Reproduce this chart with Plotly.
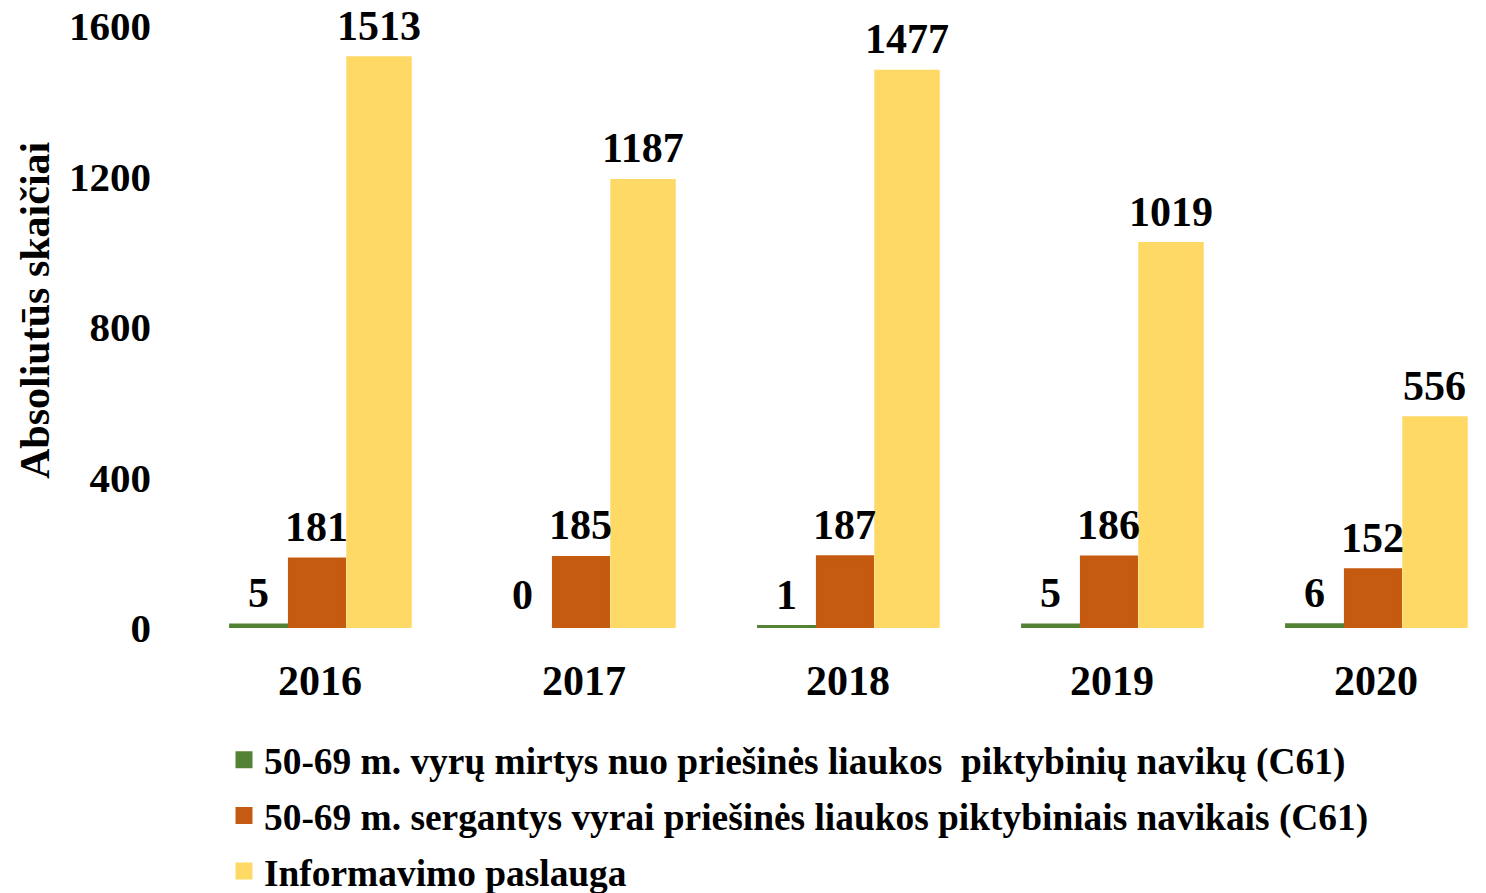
import plotly.graph_objects as go

years = ["2016", "2017", "2018", "2019", "2020"]
deaths = [5, 0, 1, 5, 6]
patients = [181, 185, 187, 186, 152]
info = [1513, 1187, 1477, 1019, 556]

names = [
    "50-69 m. vyrų mirtys nuo priešinės liaukos\u00a0 piktybinių navikų (C61)",
    "50-69 m. sergantys vyrai priešinės liaukos piktybiniais navikais (C61)",
    "Informavimo paslauga",
]
colors = ["#548235", "#C55A11", "#FFD966"]

FONT = "Liberation Serif, Times New Roman, serif"
W, H = 1486, 893
ml, mr, mt, mb = 180, 14, 18, 273
PW, PH = W - ml - mr, H - mt - mb
XRANGE = [-0.5, 4.394]
px_per_cat = PW / (XRANGE[1] - XRANGE[0])

fig = go.Figure()
series = [deaths, patients, info]
offsets = [-0.335, -0.112, 0.109]
widths = [0.205, 0.201, 0.229]
annotations = []
for i, (vals, name, col, off, wd) in enumerate(zip(series, names, colors, offsets, widths)):
    fig.add_trace(go.Bar(
        x=years, y=vals, name=name, legendgroup=f"g{i}",
        marker=dict(color=col,
                    line=dict(width=[5 if v > 0 else 0 for v in vals], color=col)),
        offset=off, width=wd,
    ))
    for j, v in enumerate(vals):
        annotations.append(dict(
            x=j, y=v, xref="x", yref="y", text=str(v), showarrow=False,
            xanchor="center", yanchor="bottom",
            xshift=(off + wd / 2) * px_per_cat, yshift=8,
            font=dict(family=FONT, size=42, color="black", weight="bold"),
        ))

annotations.append(dict(
    text="Absoliutūs skaičiai", textangle=-90,
    xref="paper", yref="paper",
    x=(27 - ml) / PW, y=(H - mb - 302) / PH,
    xanchor="center", yanchor="middle", showarrow=False,
    font=dict(family=FONT, size=42, color="black", weight="bold"),
))

fig.update_layout(
    width=W, height=H,
    barmode="overlay",
    paper_bgcolor="white", plot_bgcolor="white",
    margin=dict(l=ml, r=mr, t=mt, b=mb),
    font=dict(family=FONT, size=37, color="black", weight="bold"),
    showlegend=True,
    legend=dict(
        orientation="v", xref="paper", x=(216 - ml) / PW, xanchor="left",
        yref="container", y=1 - 721 / H, yanchor="top",
        font=dict(family=FONT, size=37.4, color="black", weight="bold"),
        tracegroupgap=4, traceorder="grouped", bgcolor="rgba(0,0,0,0)",
    ),
    xaxis=dict(
        type="category", range=XRANGE, automargin=False,
        showline=False, showgrid=False, ticks="",
        tickfont=dict(family=FONT, size=42, color="black", weight="bold"),
        ticklabelstandoff=24,
    ),
    yaxis=dict(
        range=[0, 1600], tickvals=[0, 400, 800, 1200, 1600], automargin=False,
        showline=False, showgrid=False, zeroline=False, ticks="",
        tickfont=dict(family=FONT, size=41, color="black", weight="bold"),
        ticklabelstandoff=36, ticklabeloverflow="allow",
    ),
    annotations=annotations,
)

fig.write_html("out.html")
